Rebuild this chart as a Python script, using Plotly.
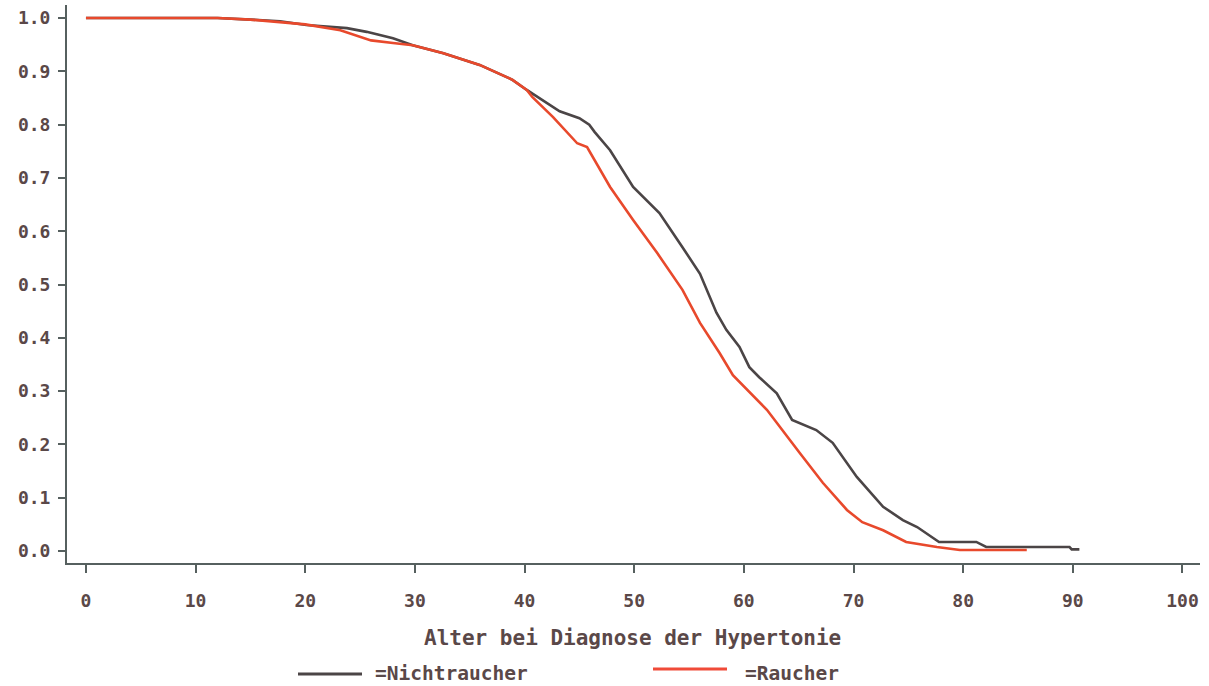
import plotly.graph_objects as go

# Kaplan-Meier style curves
nicht_x = [0, 12.0, 15.0, 17.7, 20.1, 23.8, 25.6, 28.0, 29.8, 32.6, 35.9, 38.9, 40.2, 41.7,
           43.2, 45.0, 45.9, 46.4, 47.8, 49.9, 51.0, 52.3, 54.4, 56.0, 57.5, 58.4, 59.6,
           60.5, 61.4, 63.0, 64.4, 66.6, 68.1, 70.3, 72.7, 74.5, 75.8, 77.8, 81.2, 82.1,
           89.7, 89.9, 90.6]
nicht_y = [1.0, 1.0, 0.997, 0.994, 0.987, 0.981, 0.974, 0.962, 0.949, 0.934, 0.912, 0.884,
           0.865, 0.845, 0.825, 0.812, 0.80, 0.786, 0.752, 0.683, 0.66, 0.634, 0.57, 0.52,
           0.447, 0.415, 0.383, 0.345, 0.326, 0.296, 0.246, 0.227, 0.203, 0.139, 0.083,
           0.058, 0.045, 0.017, 0.017, 0.0075, 0.0075, 0.003, 0.003]

raucher_x = [0, 12.0, 15.0, 20.0, 23.2, 24.5, 26.0, 28.0, 29.8, 32.6, 35.9, 38.9, 40.2, 40.7,
             42.6, 44.8, 45.7, 47.8, 49.9, 52.1, 54.4, 56.0, 57.8, 59.0, 62.1, 65.1, 67.2,
             69.4, 70.8, 72.7, 74.8, 77.6, 79.7, 85.8]
raucher_y = [1.0, 1.0, 0.997, 0.988, 0.977, 0.968, 0.958, 0.953, 0.949, 0.934, 0.912, 0.884,
             0.865, 0.852, 0.814, 0.765, 0.758, 0.683, 0.621, 0.559, 0.49, 0.428, 0.371,
             0.33, 0.265, 0.184, 0.128, 0.077, 0.054, 0.039, 0.017, 0.0075, 0.002, 0.002]

x_ticks = list(range(0, 101, 10))
y_ticks = [i / 10 for i in range(11)]

series_names = ["=Nichtraucher", "=Raucher"]
x_title = "Alter bei Diagnose der Hypertonie"

DARK = "#4b4546"
RED = "#e8492c"
TXT = "#5a4848"
AX = "#56605f"
FONT = "DejaVu Sans Mono"

fig = go.Figure()
fig.add_trace(go.Scatter(x=nicht_x, y=nicht_y, mode="lines", name=series_names[0],
                         line=dict(color=DARK, width=2.6), showlegend=False))
fig.add_trace(go.Scatter(x=raucher_x, y=raucher_y, mode="lines", name=series_names[1],
                         line=dict(color=RED, width=2.6), showlegend=False))

W, H = 1209, 686
L, R, T, B = 67, 1200, 5, 563


def px(xp):
    return (xp - L) / (R - L)


def py(yp):
    return (B - yp) / (B - T)


fig.update_layout(
    width=W, height=H,
    margin=dict(l=L, r=W - R, t=T, b=H - B),
    paper_bgcolor="white", plot_bgcolor="white",
    font=dict(family=FONT, color=TXT, size=18),
    xaxis=dict(range=[-1.73, 101.6], tickvals=x_ticks, showgrid=False, zeroline=False,
               showline=True, linecolor=AX, linewidth=2, ticks="outside", ticklen=8,
               tickwidth=2, tickcolor=AX, ticklabelstandoff=12,
               tickfont=dict(family=FONT, size=18, color=TXT, weight="bold")),
    yaxis=dict(range=[-0.0225, 1.0244], tickvals=y_ticks, tickformat=".1f", showgrid=False,
               zeroline=False, showline=True, linecolor=AX, linewidth=2, ticks="outside",
               ticklen=7, tickwidth=2, tickcolor=AX, ticklabelstandoff=4,
               tickfont=dict(family=FONT, size=18, color=TXT, weight="bold")),
)

fig.add_annotation(text=x_title, xref="paper", yref="paper", x=px(632), y=py(638),
                   showarrow=False, xanchor="center", yanchor="middle",
                   font=dict(family=FONT, size=21, color=TXT, weight="bold"))

# manual legend
fig.add_shape(type="line", xref="paper", yref="paper", x0=px(298), x1=px(362),
              y0=py(674), y1=py(674), line=dict(color=DARK, width=3))
fig.add_annotation(text=series_names[0], xref="paper", yref="paper", x=px(373), y=py(673),
                   showarrow=False, xanchor="left", yanchor="middle",
                   font=dict(family=FONT, size=19.5, color=TXT, weight="bold"))
fig.add_shape(type="line", xref="paper", yref="paper", x0=px(653), x1=px(727),
              y0=py(669), y1=py(669), line=dict(color="#f04a38", width=3))
fig.add_annotation(text=series_names[1], xref="paper", yref="paper", x=px(743), y=py(673),
                   showarrow=False, xanchor="left", yanchor="middle",
                   font=dict(family=FONT, size=19.5, color=TXT, weight="bold"))

fig.write_html("out.html")
